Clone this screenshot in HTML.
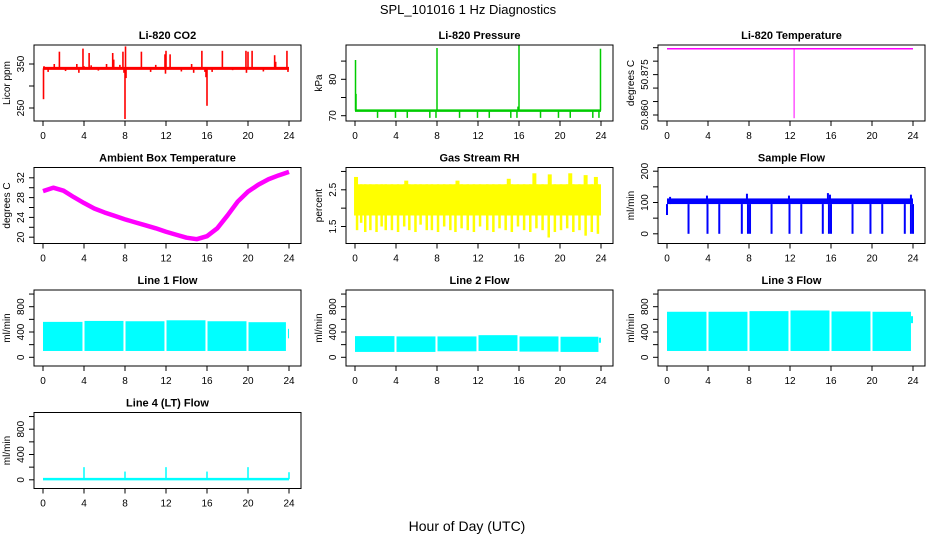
<!DOCTYPE html>
<html><head><meta charset="utf-8">
<style>
html,body{margin:0;padding:0;background:#fff;}
svg{display:block;font-family:"Liberation Sans",sans-serif;}
</style></head>
<body>
<svg id="chart" width="936" height="540" viewBox="0 0 936 540" xmlns="http://www.w3.org/2000/svg">
<text x="468" y="14" text-anchor="middle" font-size="13">SPL_101016  1 Hz Diagnostics</text>
<text x="467" y="531" text-anchor="middle" font-size="14">Hour of Day (UTC)</text>
</svg>
<script>
// ---- data arrays ----
var xTicks = [0,4,8,12,16,20,24];
var co2Base = 340;
var co2Spikes = [[0.05,270],[0.1,345],[0.5,332],[1.1,350],[1.6,378],[2.2,334],[3.3,350],[3.5,330],[3.9,385],[4.0,345],[4.5,375],[4.7,347],[5.4,335],[6.2,350],[6.8,375],[6.9,360],[7.5,348],[7.8,378],[7.9,330],[8.0,225],[8.05,390],[8.1,318],[9.6,378],[10.5,332],[11.0,348],[11.9,372],[11.95,328],[12.0,380],[12.4,372],[13.5,333],[14.5,350],[14.7,330],[15.5,380],[15.8,332],[15.9,320],[16.0,255],[16.5,332],[17.5,380],[18.5,336],[19.8,380],[19.85,330],[20.0,378],[20.4,380],[21.5,333],[22.6,370],[22.7,355],[23.8,380],[23.9,332]];
var presBase = 71.4;
var presSpikes = [[0.05,85.3],[0.1,76],[8.0,88.6],[16.0,89.3],[15.9,72.5],[23.95,88.4]];
var presDips = [2.2,3.95,5.1,7.3,7.9,10.2,11.95,13.1,15.2,15.8,18.1,19.85,21.0,23.2,23.8];
var tempBase = 50.8846;
var tempSpikes = [[12.4,50.8588]];
var ambHours = [0,1,2,3,4,5,6,7,8,9,10,11,12,13,14,15,16,17,18,19,20,21,22,23,24];
var ambTemp = [29.3,30,29.4,28.1,26.9,25.8,25,24.3,23.6,23,22.4,21.8,21.1,20.5,19.9,19.6,20.2,21.8,24.4,27.2,29.2,30.6,31.7,32.5,33.2];
var rhHigh = 2.65;
var rhLow = 1.8;
var rhDrops = [[0.2,1.4],[0.6,1.6],[1.0,1.35],[1.5,1.4],[2.1,1.35],[2.6,1.5],[3.0,1.4],[3.6,1.4],[4.2,1.35],[4.8,1.5],[5.3,1.4],[5.9,1.35],[6.4,1.55],[7.0,1.4],[7.5,1.4],[8.1,1.35],[8.7,1.5],[9.3,1.4],[9.8,1.35],[10.4,1.45],[11.0,1.4],[11.6,1.35],[12.2,1.5],[12.9,1.4],[13.5,1.35],[14.1,1.45],[14.7,1.4],[15.3,1.35],[15.9,1.5],[16.5,1.4],[17.1,1.35],[17.7,1.45],[18.3,1.4],[18.9,1.2],[19.5,1.35],[20.1,1.4],[20.7,1.45],[21.3,1.35],[21.9,1.4],[22.5,1.25],[23.1,1.35],[23.7,1.3]];
var rhPeaks = [[0.1,2.85],[5,2.75],[10,2.75],[15,2.8],[17.5,2.95],[19,2.92],[21,2.95],[22.5,2.9],[23.5,2.85]];
var flowLo = 95, flowHi = 113;
var flowDrops = [2.1,3.95,5.1,7.3,7.9,8.1,10.2,11.95,13.1,15.2,15.8,16.0,18.1,19.85,21.0,23.2,23.8,24.0];
var flowPeaks = [[0.0,60],[0.3,118],[3.9,122],[7.8,128],[11.9,122],[15.7,130],[15.9,125],[23.8,125]];
var line1Segs = [[0,3.85,100,560],[4.05,7.85,100,575],[8.05,11.85,100,570],[12.05,15.85,100,585],[16.05,19.85,100,570],[20.05,23.7,100,555],[23.9,24.0,300,450]];
var line2Segs = [[0,3.85,85,335],[4.05,7.85,85,330],[8.05,11.85,95,330],[12.05,15.85,100,350],[16.05,19.85,90,330],[20.05,23.75,85,325],[23.8,24.0,230,310]];
var line3Segs = [[0,3.85,100,720],[4.05,7.85,100,720],[8.05,11.85,100,730],[12.05,15.85,100,740],[16.05,19.85,100,725],[20.05,23.8,100,720],[23.8,24.0,540,650]];
var line4Base = 10;
var line4Spikes = [[4,200],[8,130],[12,200],[16,130],[20,200],[24,120]];

// ---- layout ----
var NS = "http://www.w3.org/2000/svg";
var svg = document.getElementById('chart');
function el(tag, attrs, parent){
  var e = document.createElementNS(NS, tag);
  for (var k in attrs) e.setAttribute(k, attrs[k]);
  (parent||svg).appendChild(e);
  return e;
}
function panel(col,row,title,ylab,vA,oA,vB,oB,ticks,labels,name){
  var x0 = 34 + 312*col, x1 = x0 + 267;
  var y0 = 45 + 122.5*row, y1 = y0 + 76;
  var g = el('g', {});
  
  
  var xs = function(h){ return x0 + 9 + h*10.25; };
  var ys = function(v){ return y0 + oA + (v - vA)*(oB - oA)/(vB - vA); };
  var t = el('text', {x:(x0+x1)/2, y:y0-6, 'text-anchor':'middle', 'font-size':11, 'font-weight':'bold'}, g);
  t.textContent = title;
  
  
  var marks = el('g', {}, g);
  
  
  var box = el('rect', {x:x0, y:y0, width:x1-x0, height:y1-y0, fill:'none', stroke:'#000', 'stroke-width':1}, g);
  
  
  var xa = el('g', {}, g);
  
  
  xTicks.forEach(function(h){
    el('line', {x1:xs(h), x2:xs(h), y1:y1, y2:y1+5, stroke:'#000'}, xa);
    var tl = el('text', {x:xs(h), y:y1+18, 'text-anchor':'middle', 'font-size':10}, xa);
    tl.textContent = h;
  });
  var ya = el('g', {}, g);
  
  
  ticks.forEach(function(v){
    el('line', {x1:x0-5, x2:x0, y1:ys(v), y2:ys(v), stroke:'#000'}, ya);
  });
  labels.forEach(function(v){
    var yy = ys(v);
    var tl = el('text', {x:x0-10, y:yy, 'text-anchor':'middle', 'font-size':10, transform:'rotate(-90 '+(x0-10)+' '+yy+')'}, ya);
    tl.textContent = v;
  });
  var yl = el('text', {x:x0-24, y:(y0+y1)/2, 'text-anchor':'middle', 'font-size':10, transform:'rotate(-90 '+(x0-24)+' '+((y0+y1)/2)+')'}, g);
  yl.textContent = ylab;
  
  
  return {xs:xs, ys:ys, g:marks};
}
function vline(p,h,a,b,color,w){
  var l = el('line', {x1:p.xs(h), x2:p.xs(h), y1:p.ys(a), y2:p.ys(b), stroke:color, 'stroke-width':w||1.5}, p.g);
  
  
}
function hband(p,h0,h1,v,color,w){
  var l = el('line', {x1:p.xs(h0), x2:p.xs(h1), y1:p.ys(v), y2:p.ys(v), stroke:color, 'stroke-width':w}, p.g);
  
  
}
function band(p,h0,h1,lo,hi,color){
  var r = el('rect', {x:p.xs(h0), y:p.ys(hi), width:p.xs(h1)-p.xs(h0), height:p.ys(lo)-p.ys(hi), fill:color}, p.g);
  
  
}

// CO2
var p1 = panel(0,0,'Li-820 CO2','Licor ppm',350,19,250,63,[250,300,350],[250,350],'panel-co2');
hband(p1,0,24,co2Base,'#f00',3);
co2Spikes.forEach(function(s){ vline(p1,s[0],co2Base,s[1],'#f00',1.6); });

// Pressure
var p2 = panel(1,0,'Li-820 Pressure','kPa',70,70.7,80,34.3,[70,75,80,85],[70,80],'panel-pressure');
hband(p2,0,24,presBase,'#0c0',2.5);
presDips.forEach(function(h){ vline(p2,h,presBase,69.4,'#0c0',1.5); });
presSpikes.forEach(function(s){ vline(p2,s[0],presBase,s[1],'#0c0',1.5); });

// Li-820 temperature
var p3 = panel(2,0,'Li-820 Temperature','degrees C',50.860,70,50.885,2.7,[50.860,50.865,50.870,50.875,50.880,50.885],['50.860','50.875'],'panel-li820-temperature');
hband(p3,0,24,tempBase,'#f0f',1.5);
tempSpikes.forEach(function(s){ vline(p3,s[0],tempBase,s[1],'#f0f',1); });

// Ambient
var p4 = panel(0,1,'Ambient Box Temperature','degrees C',20,69.7,32,10.3,[20,22,24,26,28,30,32],[20,24,28,32],'panel-ambient-temperature');
var pts = ambHours.map(function(h,i){ return p4.xs(h)+','+p4.ys(ambTemp[i]); }).join(' ');
var pl = el('polyline', {points:pts, fill:'none', stroke:'#f0f', 'stroke-width':4.5, 'stroke-linejoin':'round'}, p4.g);



// RH
var p5 = panel(1,1,'Gas Stream RH','percent',1.5,59,2.5,22.3,[1.5,2.0,2.5,3.0],[1.5,2.5],'panel-rh');
band(p5,0,24,rhLow,rhHigh,'#ff0');
rhDrops.forEach(function(s){ vline(p5,s[0],rhHigh,s[1],'#ff0',2.5); });
rhPeaks.forEach(function(s){ vline(p5,s[0],rhLow,s[1],'#ff0',4); });

// Sample flow
var p6 = panel(2,1,'Sample Flow','ml/min',0,66.3,200,3.7,[0,50,100,150,200],[0,100,200],'panel-sample-flow');
band(p6,0,24,flowLo,flowHi,'#00f');
flowDrops.forEach(function(h){ vline(p6,h,flowLo,0,'#00f',2); });
flowPeaks.forEach(function(s){ vline(p6,s[0],flowLo,s[1],'#00f',2); });

// Line flows
var fT = [0,200,400,600,800,1000], fL = [0,400,800];
var p7 = panel(0,2,'Line 1 Flow','ml/min',0,67.3,800,16.7,fT,fL,'panel-line1-flow');
line1Segs.forEach(function(s){ band(p7,s[0],s[1],s[2],s[3],'#0ff'); });
var p8 = panel(1,2,'Line 2 Flow','ml/min',0,67.3,800,16.7,fT,fL,'panel-line2-flow');
line2Segs.forEach(function(s){ band(p8,s[0],s[1],s[2],s[3],'#0ff'); });
var p9 = panel(2,2,'Line 3 Flow','ml/min',0,67.3,800,16.7,fT,fL,'panel-line3-flow');
line3Segs.forEach(function(s){ band(p9,s[0],s[1],s[2],s[3],'#0ff'); });
var p10 = panel(0,3,'Line 4 (LT) Flow','ml/min',0,67.3,800,16.7,fT,fL,'panel-line4-flow');
hband(p10,0,24,line4Base,'#0ff',2.5);
line4Spikes.forEach(function(s){ vline(p10,s[0],line4Base,s[1],'#0ff',1.5); });
</script>
</body></html>
